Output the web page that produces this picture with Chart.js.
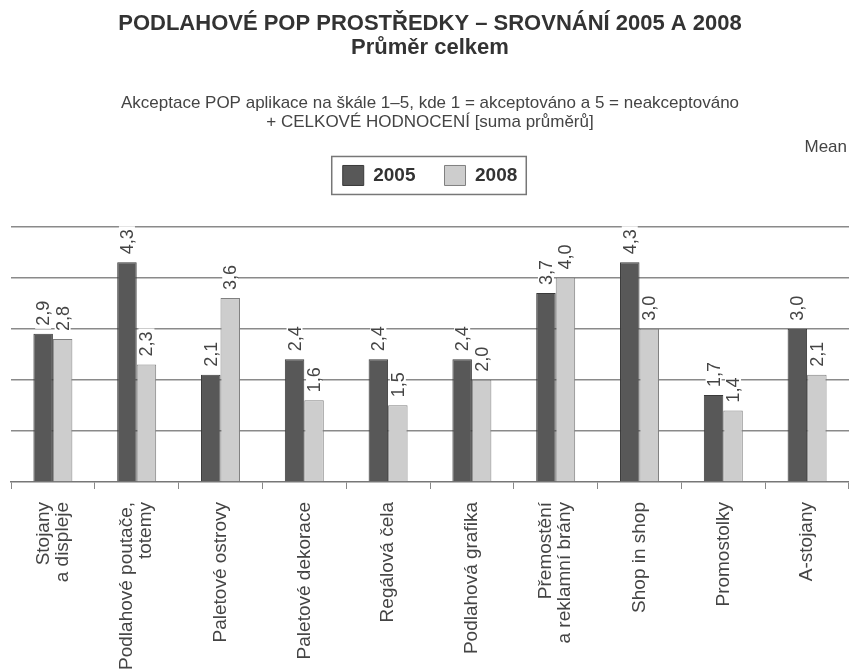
<!DOCTYPE html>
<html>
<head>
<meta charset="utf-8">
<script src="https://cdn.jsdelivr.net/npm/chart.js@4.4.1/dist/chart.umd.min.js"></script>
<style>
	body { margin: 0; background: #fff; }
	#wrap { width: 849px; height: 671px; }
</style>
</head>
<body>
<div id="wrap"><canvas id="popChart"></canvas></div>
<script>
const categories = [
	['Stojany', 'a displeje'],
	['Podlahové poutače,', 'totemy'],
	'Paletové ostrovy',
	'Paletové dekorace',
	'Regálová čela',
	'Podlahová grafika',
	['Přemostění', 'a reklamní brány'],
	'Shop in shop',
	'Promostolky',
	'A-stojany'
];
const values2005 = [2.9, 4.3, 2.1, 2.4, 2.4, 2.4, 3.7, 4.3, 1.7, 3.0];
const values2008 = [2.8, 2.3, 3.6, 1.6, 1.5, 2.0, 4.0, 3.0, 1.4, 2.1];
const seriesLabels = ['2005', '2008'];

const FONT = "'Liberation Sans', Arial, sans-serif";

// grows the legend block so the plot starts lower
const legendSpace = {
	id: 'legendSpace',
	beforeInit(chart) {
		const fit = chart.legend.fit;
		chart.legend.fit = function() {
			fit.bind(chart.legend)();
			this.height += 31;
		};
	}
};

// two-line category labels: center the block on the tick
const centerMultiLine = {
	id: 'centerMultiLine',
	beforeDraw(chart) {
		chart.scales.x.getLabelItems().forEach(item => {
			if (Array.isArray(item.label) && item.label.length > 1 && !item._moved) {
				item.options.translation[0] -= (item.label.length - 1) * item.font.lineHeight / 2;
				item._moved = true;
			}
		});
	}
};

// value labels, "Mean" and the legend frame
const extras = {
	id: 'extras',
	afterDatasetsDraw(chart) {
		const ctx = chart.ctx;
		ctx.save();
		ctx.font = '18px ' + FONT;
		chart.data.datasets.forEach((ds, i) => {
			chart.getDatasetMeta(i).data.forEach((bar, j) => {
				const txt = ds.data[j].toFixed(1).replace('.', ',');
				const w = ctx.measureText(txt).width;
				ctx.save();
				ctx.translate(bar.x, bar.y - 8);
				ctx.rotate(-Math.PI / 2);
				ctx.fillStyle = '#fff';
				ctx.fillRect(-3, -8, w + 6, 16);
				ctx.fillStyle = '#444';
				ctx.textAlign = 'left';
				ctx.textBaseline = 'middle';
				ctx.fillText(txt, 0, 1);
				ctx.restore();
			});
		});
		ctx.restore();
	},
	afterDraw(chart) {
		const ctx = chart.ctx;
		ctx.save();
		ctx.font = '17px ' + FONT;
		ctx.fillStyle = '#444';
		ctx.textAlign = 'right';
		ctx.textBaseline = 'middle';
		ctx.fillText('Mean', 847, 147);
		const boxes = chart.legend.legendHitBoxes;
		if (boxes && boxes.length) {
			const first = boxes[0];
			const last = boxes[boxes.length - 1];
			ctx.strokeStyle = '#777';
			ctx.lineWidth = 1.5;
			ctx.strokeRect(first.left - 11, first.top - 9, last.left + last.width - first.left + 20, first.height + 18);
		}
		ctx.restore();
	}
};

new Chart(document.getElementById('popChart'), {
	type: 'bar',
	data: {
		labels: categories,
		datasets: [
			{
				label: seriesLabels[0],
				data: values2005,
				backgroundColor: '#585858',
				borderColor: '#3a3a3a',
				borderWidth: 1
			},
			{
				label: seriesLabels[1],
				data: values2008,
				backgroundColor: '#cdcdcd',
				borderColor: '#808080',
				borderWidth: 1
			}
		]
	},
	options: {
		responsive: true,
		maintainAspectRatio: false,
		animation: false,
		datasets: {
			bar: { categoryPercentage: 0.465, barPercentage: 1.0 }
		},
		layout: { padding: { top: 8, left: 11, right: 0, bottom: 0 } },
		plugins: {
			title: {
				display: true,
				text: ['PODLAHOVÉ POP PROSTŘEDKY – SROVNÁNÍ 2005 A 2008', 'Průměr celkem'],
				color: '#333',
				font: { family: FONT, size: 22, weight: 'bold', lineHeight: 1.1 },
				padding: { top: 4, bottom: 33 }
			},
			subtitle: {
				display: true,
				text: ['Akceptace POP aplikace na škále 1–5, kde 1 = akceptováno a 5 = neakceptováno', '+ CELKOVÉ HODNOCENÍ [suma průměrů]'],
				color: '#444',
				font: { family: FONT, size: 17, lineHeight: 1.12 },
				padding: { top: 0, bottom: 5 }
			},
			legend: {
				display: true,
				labels: {
					color: '#333',
					font: { family: FONT, size: 19, weight: 'bold' },
					boxWidth: 21,
					boxHeight: 20,
					padding: 29
				}
			},
			tooltip: { enabled: false }
		},
		scales: {
			x: {
				afterFit: (scale) => { scale.height = 189; },
				grid: {
					offset: true,
					drawOnChartArea: false,
					drawTicks: true,
					tickLength: 7,
					color: '#888'
				},
				border: { color: '#777', width: 1.5 },
				ticks: {
					autoSkip: false,
					minRotation: 90,
					maxRotation: 90,
					padding: 13,
					color: '#444',
					font: { family: FONT, size: 19, lineHeight: 1.0 }
				}
			},
			y: {
				min: 0,
				max: 5,
				ticks: { display: false, stepSize: 1 },
				border: { display: false },
				grid: {
					drawTicks: false,
					lineWidth: 1.5,
					color: (c) => c.tick && c.tick.value === 0 ? 'rgba(0,0,0,0)' : '#8a8a8a'
				}
			}
		}
	},
	plugins: [legendSpace, centerMultiLine, extras]
});
</script>
</body>
</html>
